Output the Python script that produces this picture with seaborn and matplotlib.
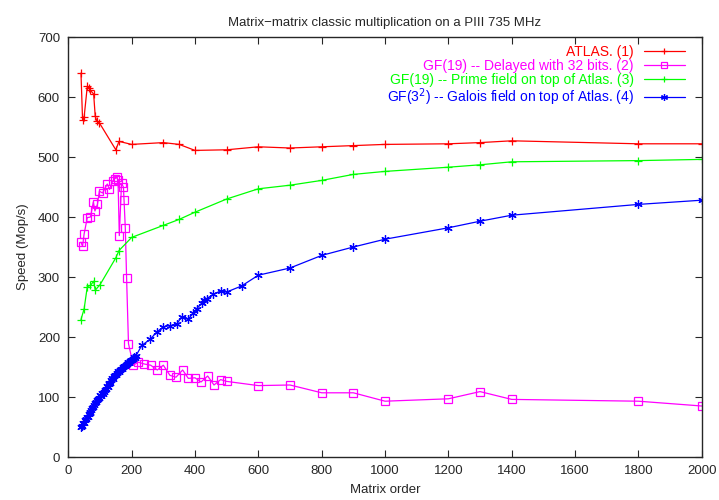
import numpy as np
import pandas as pd
import matplotlib
matplotlib.use('Agg')
import matplotlib.pyplot as plt
import seaborn as sns

# ATLAS (1)
atlas_x = [40, 45, 50, 60, 65, 70, 80, 85, 90, 98, 150, 160, 200, 300, 350, 400, 500, 600,
           700, 800, 900, 1000, 1200, 1300, 1400, 1800, 2000]
atlas_y = [640, 562, 567, 618, 615, 611, 605, 568, 560, 557, 512, 526, 521, 524, 521, 511, 512, 517,
           515, 517, 519, 521, 522, 524, 527, 522, 522]

# GF(19) delayed (2)
delay_x = [40, 45, 50, 60, 70, 79, 84, 92, 98, 108, 123, 130, 140, 147, 153, 157, 161, 168, 174,
           176, 180, 184, 190, 205, 221, 240, 260, 281, 300, 321, 340, 361, 379, 400, 419, 440,
           460, 481, 500, 600, 700, 800, 900, 1000, 1200, 1300, 1400, 1800, 2000]
delay_y = [358, 351, 372, 399, 400, 425, 410, 421, 443, 440, 455, 446, 460, 464, 466, 461, 369, 456, 450,
           428, 381, 299, 189, 153, 158, 155, 153, 145, 153, 136, 133, 145, 131, 132, 125, 135,
           120, 129, 126, 119, 120, 107, 107, 93, 97, 109, 96, 93, 85]

# GF(19) prime field (3)
prime_x = [40, 50, 60, 70, 80, 85, 100, 150, 160, 200, 300, 350, 400, 500, 600, 700, 800, 900,
           1000, 1200, 1300, 1400, 1800, 2000]
prime_y = [229, 247, 284, 286, 293, 278, 287, 332, 344, 366, 386, 396, 408, 430, 447, 453, 461, 471,
           476, 483, 487, 492, 494, 496]

# GF(3^2) Galois field (4)
galois_x = [40, 43, 46, 49, 52, 55, 58, 61, 64, 67, 70, 73, 76, 79, 82, 85, 88, 91, 94, 97,
            100, 103, 106, 109, 112, 115, 118, 121, 124, 127, 130, 133, 136, 139, 142, 145, 148,
            151, 154, 157, 160, 163, 166, 169, 172, 175, 178, 181, 184, 187, 190, 193, 196, 199,
            202, 205, 208, 211, 214, 232, 258, 279, 300, 321, 342, 358, 379, 395, 405, 421, 428,
            437, 458, 481, 500, 547, 600, 700, 800, 900, 1000, 1200, 1300, 1400, 1800, 2000]
galois_y = [50, 52, 56, 57, 61, 63, 66, 67, 71, 74, 75, 79, 82, 83, 87, 90, 91, 95, 97, 99,
            103, 101, 106, 105, 109, 112, 114, 118, 117, 122, 124, 123, 128, 131, 130, 135, 137,
            136, 140, 143, 141, 145, 147, 146, 150, 152, 151, 154, 155, 157, 158, 157, 160, 162,
            161, 164, 166, 165, 169, 186, 196, 208, 217, 219, 221, 234, 230, 240, 247, 256, 261,
            264, 271, 277, 275, 285, 303, 315, 336, 350, 363, 382, 393, 403, 421, 428]

sns.set_style('ticks')
plt.rcParams['font.family'] = ['Liberation Sans', 'DejaVu Sans']

fig, ax = plt.subplots(figsize=(7.19, 5), dpi=100)
fig.subplots_adjust(left=0.095, right=0.976, top=0.926, bottom=0.086)

common = dict(sort=False, estimator=None, linewidth=0.9, markersize=6, markeredgewidth=0.9, ax=ax)

sns.lineplot(x=atlas_x, y=atlas_y, color='#ff0000', marker='+', markeredgecolor='#ff0000',
             label='ATLAS. (1)', **common)
sns.lineplot(x=delay_x, y=delay_y, color='#ff00ff', marker='s', markerfacecolor='none',
             markeredgecolor='#ff00ff', label='GF(19) -- Delayed with 32 bits. (2)', **common)
sns.lineplot(x=prime_x, y=prime_y, color='#00ff00', marker='+', markeredgecolor='#00ff00',
             label='GF(19) -- Prime field on top of Atlas. (3)', **common)
sns.lineplot(x=galois_x, y=galois_y, color='#0000ff', marker=(6, 2, 0), markeredgecolor='#0000ff',
             label='GF(3$^2$) -- Galois field on top of Atlas. (4)', **common)

ax.set_xlim(0, 2000)
ax.set_ylim(0, 700)
ax.set_xticks(range(0, 2001, 200))
ax.set_yticks(range(0, 701, 100))
ax.tick_params(direction='in', top=True, right=True, length=5, width=0.8, labelsize=9.5, pad=6)
for s in ax.spines.values():
    s.set_linewidth(1)

ax.set_title('Matrix\u2212matrix classic multiplication on a PIII 735 MHz', fontsize=9.5, pad=8)
ax.set_xlabel('Matrix order', fontsize=9.5, labelpad=5)
ax.set_ylabel('Speed (Mop/s)', fontsize=9.5, labelpad=6)

leg = ax.legend(loc='upper right', frameon=False, markerfirst=False, labelcolor='linecolor',
                fontsize=10, handlelength=3, handletextpad=0.7, labelspacing=-0.02,
                borderaxespad=0.2, bbox_to_anchor=(0.987, 1.0))
for t in leg.get_texts():
    t.set_ha('right')
for h in leg.legend_handles:
    h.set_markersize(5)

fig.savefig('out.png', dpi=100)
